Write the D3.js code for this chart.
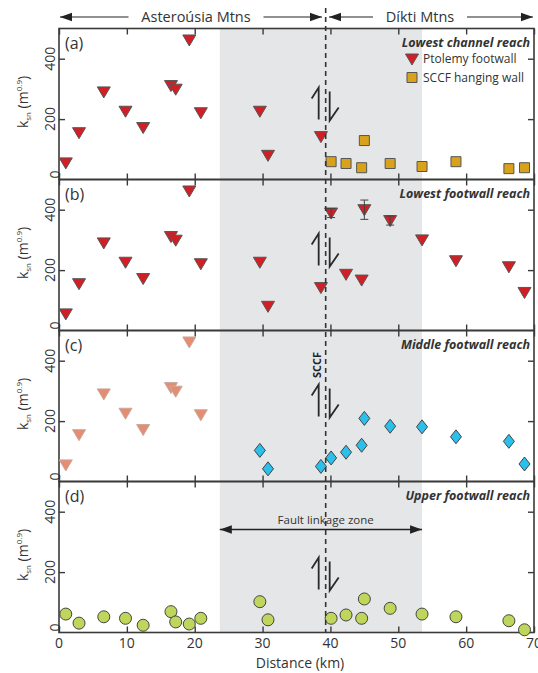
<!DOCTYPE html>
<html>
<head>
<meta charset="utf-8">
<script src="https://cdn.jsdelivr.net/npm/d3@7"></script>
<style>
  body { margin: 0; background: #fff; }
  svg { display: block; font-family: "Open Sans", "Noto Sans", sans-serif; }
</style>
</head>
<body>
<svg id="chart" width="538" height="673"></svg>
<script>
// distances (km) along the range front
const distWest = [1.0, 2.95, 6.6, 9.8, 12.4, 16.5, 17.2, 19.2, 20.9, 29.6, 30.8, 38.6]
const distEast = [40.1, 42.3, 44.6, 45.0, 48.8, 53.5, 58.5, 66.3, 68.6]

// ksn values
const ptolemyKsn = [55, 155, 290, 226, 172, 311, 299, 462, 221, 226, 80, 142]
const hangingWallKsn = [59, 53, 39, 129, 53, 43, 59, 36, 39]
const lowestFootwallKsn = [389, 186, 167, 400, 364, 300, 231, 211, 126]
const lowestFootwallErr = [15, 0, 0, 32, 15, 0, 0, 0, 0]
const middleDist = [29.6, 30.8, 38.6, 40.1, 42.3, 44.6, 45.0, 48.8, 53.5, 58.5, 66.3, 68.6]
const middleKsn = [103, 42, 50, 78, 97, 120, 209, 183, 181, 148, 133, 58]
const upperDist = [1.0, 2.95, 6.6, 9.8, 12.4, 16.5, 17.2, 19.2, 20.9, 29.6, 30.8,
                   40.1, 42.3, 44.6, 45.0, 48.8, 53.5, 58.5, 66.3, 68.6]
const upperKsn = [61, 31, 52, 47, 24, 69, 35, 28, 47, 102, 42,
                  47, 58, 47, 111, 80, 61, 52, 39, 9]

const panelLabels = ["(a)", "(b)", "(c)", "(d)"]
const panelTitles = ["Lowest channel reach", "Lowest footwall reach", "Middle footwall reach", "Upper footwall reach"]
const xTicks = [0, 10, 20, 30, 40, 50, 60, 70]
const yTicks = [0, 200, 400]
const linkageZone = [23.7, 53.5]
const faultKm = 39.3

const left = 59, right = 534
const top0 = 28.5, panelH = 151

const svg = d3.select("#chart")

const x = d3.scaleLinear().domain([0, 70]).range([left, right])
const panelTop = i => top0 + i * panelH
const yScale = i => d3.scaleLinear().domain([0, 500]).range([panelTop(i) + panelH, panelTop(i)])

const bottom = panelTop(4)

// grey linkage zone
svg.append("rect")
    .attr("x", x(linkageZone[0]))
    .attr("y", top0)
    .attr("width", x(linkageZone[1]) - x(linkageZone[0]))
    .attr("height", bottom - top0)
    .attr("fill", "#e5e6e8")

// marker shapes
const triDown = "M-6.5,-5 L6.5,-5 L0,6 Z"
const square = "M-5,-5 H5 V5 H-5 Z"
const diamond = "M0,-7 L5.5,0 L0,7 L-5.5,0 Z"

const drawMarks = (g, xs, ys, shape, fill, stroke) => {
    g.selectAll(null)
        .data(xs.map((d, i) => [d, ys[i]]))
        .join("path")
        .attr("d", shape)
        .attr("transform", d => `translate(${x(d[0])},${d[1]})`)
        .attr("fill", fill)
        .attr("stroke", stroke)
        .attr("stroke-width", 1)
}

const faultArrows = (g, cx, y0) => {
    // left: up harpoon, barb to the left
    g.append("path")
        .attr("d", `M${cx - 7},${y0 + 32} V${y0} L${cx - 14},${y0 + 11}`)
        .attr("fill", "none").attr("stroke", "#2a2a2a").attr("stroke-width", 1.8)
    // right: down harpoon, barb to the right
    g.append("path")
        .attr("d", `M${cx + 4},${y0 + 4} V${y0 + 33} L${cx + 13},${y0 + 20}`)
        .attr("fill", "none").attr("stroke", "#2a2a2a").attr("stroke-width", 1.8)
}

const faultOffsets = [59, 54, 54, 76]

for (let i = 0; i < 4; i++) {
    const y = yScale(i)
    const g = svg.append("g")
    const pt = panelTop(i)

    // frame
    g.append("rect")
        .attr("x", left).attr("y", pt)
        .attr("width", right - left).attr("height", panelH)
        .attr("fill", "none").attr("stroke", "#3a3a3a").attr("stroke-width", 1.6)

    // inward ticks
    g.append("g").attr("transform", `translate(0,${pt + panelH})`)
        .call(d3.axisTop(x).tickValues(xTicks).tickSize(6).tickFormat(""))
        .call(a => a.select(".domain").remove())
    g.append("g").attr("transform", `translate(0,${pt})`)
        .call(d3.axisBottom(x).tickValues(xTicks).tickSize(6).tickFormat(""))
        .call(a => a.select(".domain").remove())
    g.append("g").attr("transform", `translate(${left},0)`)
        .call(d3.axisRight(y).tickValues([200, 400]).tickSize(6).tickFormat(""))
        .call(a => a.select(".domain").remove())
    g.append("g").attr("transform", `translate(${right},0)`)
        .call(d3.axisLeft(y).tickValues([200, 400]).tickSize(6).tickFormat(""))
        .call(a => a.select(".domain").remove())
    g.selectAll(".tick line").attr("stroke", "#3a3a3a").attr("stroke-width", 1.4)

    // y tick labels (rotated)
    g.selectAll(null).data(yTicks).join("text")
        .attr("transform", d => `translate(${left - 4},${d === 0 ? y(d) - 1 : y(d)}) rotate(-90)`)
        .attr("text-anchor", d => d === 0 ? "start" : "middle")
        .attr("dy", d => d === 0 ? "0.35em" : "0")
        .attr("font-size", 14).attr("fill", "#333")
        .text(d => d)

    // y axis title
    const yl = g.append("text")
        .attr("transform", `translate(28,${pt + panelH / 2 - 2}) rotate(-90)`)
        .attr("text-anchor", "middle")
        .attr("font-size", 14).attr("fill", "#333")
    yl.append("tspan").text("k")
    yl.append("tspan").attr("font-size", 8).attr("dy", 3).text("sn")
    yl.append("tspan").attr("dy", -3).text(" (m")
    yl.append("tspan").attr("font-size", 8).attr("dy", -6).text("0.9")
    yl.append("tspan").attr("dy", 6).text(")")

    // panel letter
    g.append("text")
        .attr("x", 65).attr("y", pt + 20)
        .attr("font-size", 16).attr("fill", "#333")
        .text(panelLabels[i])

    // panel title
    g.append("text")
        .attr("x", right - 4).attr("y", pt + 18)
        .attr("text-anchor", "end")
        .attr("font-size", 12.5).attr("font-weight", "bold").attr("font-style", "italic")
        .attr("fill", "#333")
        .text(panelTitles[i])

    faultArrows(g, x(faultKm), pt + faultOffsets[i])

    // data
    if (i === 0) {
        drawMarks(g, distWest, ptolemyKsn.map(y), triDown, "#d21f26", "#555")
        drawMarks(g, distEast, hangingWallKsn.map(y), square, "#d8a21c", "#555")
    } else if (i === 1) {
        // error bars
        const eb = g.selectAll(null)
            .data(distEast.map((d, j) => [d, lowestFootwallKsn[j], lowestFootwallErr[j]]).filter(d => d[2] > 0))
            .join("g")
        eb.append("line")
            .attr("x1", d => x(d[0])).attr("x2", d => x(d[0]))
            .attr("y1", d => y(d[1] + d[2])).attr("y2", d => y(d[1] - d[2]))
            .attr("stroke", "#444")
        eb.append("line")
            .attr("x1", d => x(d[0]) - 4).attr("x2", d => x(d[0]) + 4)
            .attr("y1", d => y(d[1] + d[2])).attr("y2", d => y(d[1] + d[2]))
            .attr("stroke", "#444")
        eb.append("line")
            .attr("x1", d => x(d[0]) - 4).attr("x2", d => x(d[0]) + 4)
            .attr("y1", d => y(d[1] - d[2])).attr("y2", d => y(d[1] - d[2]))
            .attr("stroke", "#444")
        drawMarks(g, distWest, ptolemyKsn.map(y), triDown, "#d21f26", "#555")
        drawMarks(g, distEast, lowestFootwallKsn.map(y), triDown, "#d21f26", "#555")
        eb.raise()
    } else if (i === 2) {
        drawMarks(g, distWest.slice(0, 9), ptolemyKsn.slice(0, 9).map(y), triDown, "#e58d72", "#c9a89c")
        drawMarks(g, middleDist, middleKsn.map(y), diamond, "#2bbfec", "#444")
    } else {
        g.selectAll(null)
            .data(upperDist.map((d, j) => [d, upperKsn[j]]))
            .join("circle")
            .attr("cx", d => x(d[0])).attr("cy", d => y(d[1]))
            .attr("r", 6)
            .attr("fill", "#bfd65c").attr("stroke", "#444").attr("stroke-width", 1)
    }
}

// legend in panel (a)
const lg = svg.append("g")
lg.append("path").attr("d", triDown).attr("transform", "translate(412,59)")
    .attr("fill", "#d21f26").attr("stroke", "#555")
lg.append("text").attr("x", 423).attr("y", 63).attr("font-size", 12).attr("fill", "#333").text("Ptolemy footwall")
lg.append("path").attr("d", square).attr("transform", "translate(412,77.5)")
    .attr("fill", "#d8a21c").attr("stroke", "#555")
lg.append("text").attr("x", 423).attr("y", 82).attr("font-size", 12).attr("fill", "#333").text("SCCF hanging wall")

// SCCF label in panel (c)
svg.append("text")
    .attr("transform", `translate(${x(faultKm) - 5},365) rotate(-90)`)
    .attr("text-anchor", "middle")
    .attr("font-size", 11).attr("font-weight", "bold").attr("fill", "#222")
    .text("SCCF")

// fault trace
svg.append("line")
    .attr("x1", x(faultKm)).attr("x2", x(faultKm))
    .attr("y1", 8).attr("y2", bottom)
    .attr("stroke", "#333").attr("stroke-width", 1.6)
    .attr("stroke-dasharray", "5,4")

// arrow markers
const defs = svg.append("defs")
defs.append("marker").attr("id", "head")
    .attr("viewBox", "0 0 10 10").attr("refX", 10).attr("refY", 5)
    .attr("markerWidth", 12).attr("markerHeight", 12).attr("markerUnits", "userSpaceOnUse")
    .attr("orient", "auto-start-reverse")
    .append("path").attr("d", "M0,1.5 L10,5 L0,8.5 Z").attr("fill", "#222")

// header range arrows
const headerY = 17
const header = [
    {name: "Asteroúsia Mtns", x0: 60, x1: 322, tx: 196},
    {name: "Díkti Mtns", x0: 329, x1: 533, tx: 420}
]
header.forEach(h => {
    const half = h.name.length * 4.1 + 6
    svg.append("line").attr("x1", h.x0).attr("x2", h.tx - half)
        .attr("y1", headerY).attr("y2", headerY)
        .attr("stroke", "#222").attr("stroke-width", 1.2)
        .attr("marker-start", "url(#head)")
    svg.append("line").attr("x1", h.tx + half).attr("x2", h.x1)
        .attr("y1", headerY).attr("y2", headerY)
        .attr("stroke", "#222").attr("stroke-width", 1.2)
        .attr("marker-end", "url(#head)")
    svg.append("text").attr("x", h.tx).attr("y", headerY + 5)
        .attr("text-anchor", "middle").attr("font-size", 14.5).attr("fill", "#333")
        .text(h.name)
})

// fault linkage zone arrow (panel d)
const lzY = panelTop(3) + 48
svg.append("line")
    .attr("x1", x(linkageZone[0])).attr("x2", x(linkageZone[1]))
    .attr("y1", lzY).attr("y2", lzY)
    .attr("stroke", "#222").attr("stroke-width", 1.6)
    .attr("marker-start", "url(#head)").attr("marker-end", "url(#head)")
svg.append("text")
    .attr("x", x(faultKm)).attr("y", lzY - 6)
    .attr("text-anchor", "middle").attr("font-size", 11.5).attr("fill", "#333")
    .text("Fault linkage zone")

// x axis labels
svg.append("g").selectAll("text").data(xTicks).join("text")
    .attr("x", d => x(d)).attr("y", bottom + 15)
    .attr("text-anchor", "middle").attr("font-size", 14).attr("fill", "#333")
    .text(d => d)
svg.append("text")
    .attr("x", 300).attr("y", bottom + 35)
    .attr("text-anchor", "middle").attr("font-size", 14).attr("fill", "#333")
    .text("Distance (km)")
</script>
</body>
</html>
